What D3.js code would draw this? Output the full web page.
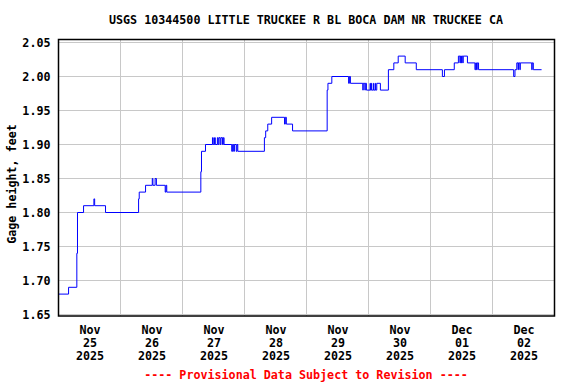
<!DOCTYPE html>
<html>
<head>
<meta charset="utf-8">
<script src="https://cdn.jsdelivr.net/npm/d3@7"></script>
<style>
  html, body { margin: 0; padding: 0; background: #fff; }
  text { font-family: "DejaVu Sans Mono", monospace; font-weight: bold; }
</style>
</head>
<body>
<script>
// ---- data ----
const titleText = "USGS 10344500 LITTLE TRUCKEE R BL BOCA DAM NR TRUCKEE CA";
const yLabel = "Gage height, feet";
const footerText = "---- Provisional Data Subject to Revision ----";
const yTicks = [1.65, 1.70, 1.75, 1.80, 1.85, 1.90, 1.95, 2.00, 2.05];
const tickMonths = ["Nov", "Nov", "Nov", "Nov", "Nov", "Nov", "Dec", "Dec"];
const tickDays = ["25", "26", "27", "28", "29", "30", "01", "02"];
const tickYears = ["2025", "2025", "2025", "2025", "2025", "2025", "2025", "2025"];
// step changes: hours after Nov 25 2025 00:00, gage height (ft)
const stepHours = [
  0, 3.9, 7.1, 7.35, 9.7, 13.7, 14.0, 18.2,
  31.0, 31.25, 33.7, 36.3, 36.55, 37.4, 37.9, 41.3, 41.6, 41.9,
  55.1, 55.35, 56.9, 59.6, 59.9, 60.4, 60.7, 61.5, 61.8, 62.1, 62.6, 62.9, 63.5, 63.8, 64.1,
  67.05, 67.4, 67.8, 68.1, 68.8, 69.1, 69.4, 79.7, 80.2, 81.0, 82.5, 87.5, 87.8, 88.2, 90.6,
  104.0, 104.3, 105.8, 112.3, 112.6, 113.0,
  117.8, 117.95, 118.6, 118.75, 119.2, 120.6, 120.75, 121.1, 121.25, 121.9, 122.05, 122.6, 122.75, 123.2, 124.6,
  127.7, 129.8, 131.5, 134.2, 138.5, 148.6, 149.4,
  153.2, 154.8, 155.4, 155.55, 155.9, 156.05, 156.5, 156.65, 158.3, 161.2, 161.5, 161.8, 162.1, 162.6,
  176.2, 176.7, 177.4, 177.9, 178.05, 178.6, 178.75, 183.2, 183.35, 183.8, 187.0
];
const stepValues = [
  1.68, 1.69, 1.74, 1.80, 1.81, 1.82, 1.81, 1.80,
  1.82, 1.83, 1.84, 1.85, 1.84, 1.85, 1.84, 1.83, 1.84, 1.83,
  1.86, 1.89, 1.90, 1.91, 1.90, 1.91, 1.90, 1.91, 1.90, 1.91, 1.90, 1.91, 1.90, 1.91, 1.90,
  1.89, 1.90, 1.89, 1.90, 1.89, 1.90, 1.89, 1.91, 1.92, 1.93, 1.94, 1.93, 1.94, 1.93, 1.92,
  1.98, 1.99, 2.00, 1.99, 2.00, 1.99,
  1.98, 1.99, 1.98, 1.99, 1.98, 1.99, 1.98, 1.99, 1.98, 1.99, 1.98, 1.99, 1.98, 1.99, 1.98,
  2.01, 2.02, 2.03, 2.02, 2.01, 2.00, 2.01,
  2.02, 2.03, 2.02, 2.03, 2.02, 2.03, 2.02, 2.03, 2.02, 2.01, 2.02, 2.01, 2.02, 2.01,
  2.00, 2.01, 2.02, 2.01, 2.02, 2.01, 2.02, 2.01, 2.02, 2.01, 2.01
];

// ---- layout ----
const W = 576, H = 384;
const X0 = 58.5, X1 = 554.5, Y0 = 39.5, Y1 = 316;
const start = Date.UTC(2025, 10, 25);
const toDate = h => new Date(start + h * 3600e3);

const svg = d3.select("body").append("svg")
  .attr("width", W).attr("height", H)
  .style("display", "block").style("background", "#fff");

const x = d3.scaleUtc()
  .domain([new Date(start), new Date(Date.UTC(2025, 11, 3))])
  .range([X0, X1]);
const y = d3.scaleLinear().domain([1.65, 2.05]).range([314.5, 42.5]);

// gridlines
const dayTicks = d3.utcDay.range(new Date(start), new Date(Date.UTC(2025, 11, 3))).slice(1);
svg.append("g").selectAll("line").data(dayTicks).join("line")
  .attr("x1", d => Math.round(x(d) - 0.5) + 0.5).attr("x2", d => Math.round(x(d) - 0.5) + 0.5)
  .attr("y1", Y0).attr("y2", Y1)
  .attr("stroke", "#c8c8c8").attr("stroke-width", 1);
svg.append("g").selectAll("line").data(yTicks).join("line")
  .attr("x1", X0).attr("x2", X1)
  .attr("y1", d => y(d)).attr("y2", d => y(d))
  .attr("stroke", "#c8c8c8").attr("stroke-width", 1);

// data line
const data = stepHours.map((h, i) => ({ t: toDate(h), v: stepValues[i] }));
const line = d3.line().x(d => x(d.t)).y(d => y(d.v)).curve(d3.curveStepAfter);
svg.append("path").datum(data)
  .attr("d", line).attr("fill", "none")
  .attr("stroke", "#0000ff").attr("stroke-width", 1);

// frame
svg.append("rect").attr("x", X0).attr("y", Y0)
  .attr("width", X1 - X0).attr("height", Y1 - Y0)
  .attr("fill", "none").attr("stroke", "#000").attr("stroke-width", 1.5);

// y axis
const yAxis = d3.axisLeft(y).tickValues(yTicks).tickSize(0).tickPadding(8)
  .tickFormat(d3.format(".2f"));
const gy = svg.append("g").attr("transform", `translate(${X0},0)`).call(yAxis);
gy.select(".domain").remove();
gy.selectAll("text").style("font-size", "11.7px").attr("fill", "#000")
  .attr("dy", "0.36em");

// x axis labels (at noon)
const noonTicks = tickDays.map((d, i) => toDate(i * 24 + 12));
const xAxis = d3.axisBottom(x).tickValues(noonTicks).tickSize(0).tickPadding(0)
  .tickFormat(() => "");
const gx = svg.append("g").attr("transform", `translate(0,${Y1})`).call(xAxis);
gx.select(".domain").remove();
gx.selectAll(".tick text").each(function(d, i) {
  const t = d3.select(this).attr("y", 0).attr("dy", null)
    .style("font-size", "11.7px").attr("fill", "#000");
  [tickMonths[i], tickDays[i], tickYears[i]].forEach((s, k) => {
    t.append("tspan").attr("x", 0).attr("y", 18 + k * 13).text(s);
  });
});

// title
svg.append("text").attr("x", 306).attr("y", 24).attr("text-anchor", "middle")
  .style("font-size", "11.7px").attr("fill", "#000").text(titleText);

// y label
svg.append("text").attr("transform", "translate(16,184) rotate(-90)")
  .attr("text-anchor", "middle").style("font-size", "11.7px").attr("fill", "#000")
  .text(yLabel);

// footer
svg.append("text").attr("x", 306).attr("y", 379).attr("text-anchor", "middle")
  .style("font-size", "11.7px").attr("fill", "#ff0000").text(footerText);
</script>
</body>
</html>
